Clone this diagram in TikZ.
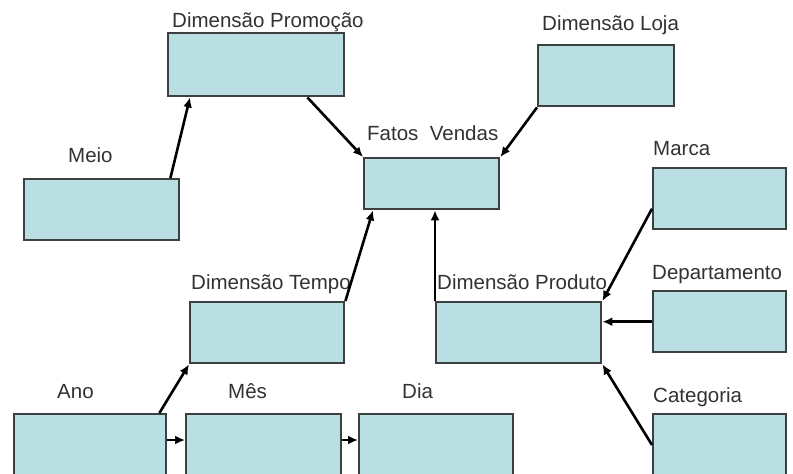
\documentclass[tikz,border=0pt]{standalone}
\usepackage{fontspec}
\setmainfont{Liberation Sans}
\usetikzlibrary{arrows.meta}
\definecolor{boxfill}{RGB}{185,223,226}
\definecolor{boxline}{RGB}{60,64,64}
\definecolor{txt}{RGB}{50,50,50}
\begin{document}
\begin{tikzpicture}[x=1pt,y=-1pt,
  tbox/.style={draw=boxline,line width=2.4pt,fill=boxfill,rectangle,inner sep=0pt,anchor=north west},
  lbl/.style={anchor=base west,inner sep=0pt,text=txt,font=\fontsize{20.5}{24}\selectfont},
  conn/.style={line width=2.6pt,black,-{Latex[length=10pt,width=9pt]}}]
\clip (0,0) rectangle (793,474);
\fill[white] (0,0) rectangle (793,474);
% boxes
\node[tbox,minimum width=176pt,minimum height=63pt] (prom) at (167,32) {};
\node[tbox,minimum width=136pt,minimum height=61pt] (loja) at (537,44) {};
\node[tbox,minimum width=135pt,minimum height=51pt] (fatos) at (363,157) {};
\node[tbox,minimum width=155pt,minimum height=61pt] (meio) at (23,178) {};
\node[tbox,minimum width=133pt,minimum height=61pt] (marca) at (652,167) {};
\node[tbox,minimum width=154pt,minimum height=61pt] (tempo) at (189,301) {};
\node[tbox,minimum width=165pt,minimum height=61pt] (produto) at (435,301) {};
\node[tbox,minimum width=133pt,minimum height=61pt] (depto) at (652,290) {};
\node[tbox,minimum width=152pt,minimum height=80pt] (ano) at (13,413) {};
\node[tbox,minimum width=155pt,minimum height=80pt] (mes) at (185,413) {};
\node[tbox,minimum width=154pt,minimum height=80pt] (dia) at (358,413) {};
\node[tbox,minimum width=133pt,minimum height=80pt] (cat) at (652,413) {};
% labels
\node[lbl] (lprom) at (172,27) {Dimensão Promoção};
\node[lbl] (lloja) at (542,30) {Dimensão Loja};
\node[lbl] (lfatos) at (367,140) {Fatos\ \ Vendas};
\node[lbl] (lmeio) at (68,162) {Meio};
\node[lbl] (lmarca) at (653,155) {Marca};
\node[lbl] (ltempo) at (191,289) {Dimensão Tempo};
\node[lbl] (lproduto) at (437,289) {Dimensão Produto};
\node[lbl] (ldepto) at (652,279) {Departamento};
\node[lbl] (lano) at (57,398) {Ano};
\node[lbl] (lmes) at (228,398) {Mês};
\node[lbl] (ldia) at (402,398) {Dia};
\node[lbl] (lcat) at (653,402) {Categoria};
% connectors
\draw[conn] ([xshift=-10pt]meio.north east) -- ([xshift=23pt]prom.south west);
\draw[conn] ([xshift=-38pt]prom.south east) -- (fatos.north west);
\draw[conn] (loja.south west) -- (fatos.north east);
\draw[conn] (tempo.north east) -- ([xshift=10pt]fatos.south west);
\draw[conn] (produto.north west) -- (fatos.south west -| produto.north west);
\draw[conn] ([yshift=-10pt]marca.west) -- (produto.north east);
\draw[conn] (depto.west) -- (depto.west -| produto.east);
\draw[conn] ([yshift=-32pt]cat.north west) -- (produto.south east);
\draw[conn] ([xshift=-8pt]ano.north east) -- (tempo.south west);
\draw[conn] ([yshift=-27pt]ano.north east) -- ([yshift=-27pt]mes.north west);
\draw[conn] ([yshift=-27pt]mes.north east) -- ([yshift=-27pt]dia.north west);
\end{tikzpicture}
\end{document}
